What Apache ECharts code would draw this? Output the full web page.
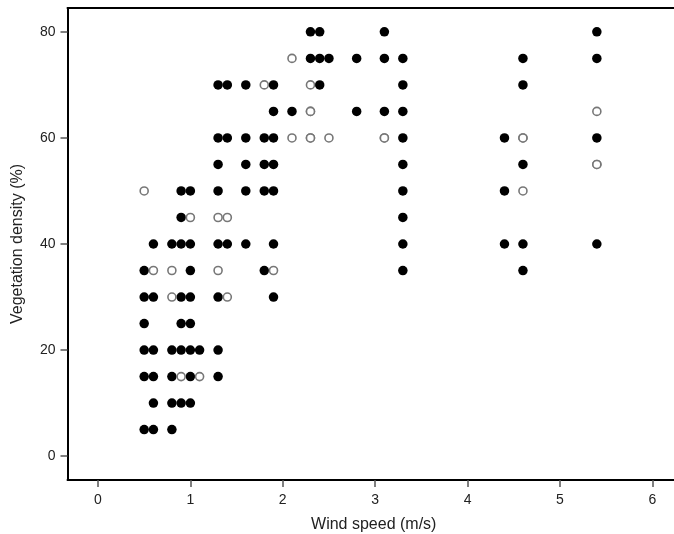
<!DOCTYPE html>
<html>
<head>
<meta charset="utf-8">
<script src="https://cdn.jsdelivr.net/npm/echarts@6/dist/echarts.min.js"></script>
<style>html,body{margin:0;padding:0;background:#fff;}#c{width:674px;height:534px;}</style>
</head>
<body>
<div id="c"></div>
<script>
// Filled points: [wind speed, vegetation density]
const filledPoints = [
  [2.3,80],[2.4,80],[3.1,80],[5.4,80],
  [2.3,75],[2.4,75],[2.5,75],[2.8,75],[3.1,75],[3.3,75],[4.6,75],[5.4,75],
  [1.3,70],[1.4,70],[1.6,70],[1.9,70],[2.4,70],[3.3,70],[4.6,70],
  [1.9,65],[2.1,65],[2.8,65],[3.1,65],[3.3,65],
  [1.3,60],[1.4,60],[1.6,60],[1.8,60],[1.9,60],[3.3,60],[4.4,60],[5.4,60],
  [1.3,55],[1.6,55],[1.8,55],[1.9,55],[3.3,55],[4.6,55],
  [0.9,50],[1.0,50],[1.3,50],[1.6,50],[1.8,50],[1.9,50],[3.3,50],[4.4,50],
  [0.9,45],[3.3,45],
  [0.6,40],[0.8,40],[0.9,40],[1.0,40],[1.3,40],[1.4,40],[1.6,40],[1.9,40],[3.3,40],[4.4,40],[4.6,40],[5.4,40],
  [0.5,35],[1.0,35],[1.8,35],[3.3,35],[4.6,35],
  [0.5,30],[0.6,30],[0.9,30],[1.0,30],[1.3,30],[1.9,30],
  [0.5,25],[0.9,25],[1.0,25],
  [0.5,20],[0.6,20],[0.8,20],[0.9,20],[1.0,20],[1.1,20],[1.3,20],
  [0.5,15],[0.6,15],[0.8,15],[1.0,15],[1.3,15],
  [0.6,10],[0.8,10],[0.9,10],[1.0,10],
  [0.5,5],[0.6,5],[0.8,5]
];
// Open points
const openPoints = [
  [2.1,75],
  [1.8,70],[2.3,70],
  [2.3,65],[2.3,65],[5.4,65],
  [2.1,60],[2.3,60],[2.3,60],[2.5,60],[3.1,60],[3.1,60],[4.6,60],[4.6,60],
  [5.4,55],[5.4,55],
  [0.5,50],[4.6,50],
  [1.0,45],[1.3,45],[1.4,45],
  [0.6,35],[0.8,35],[1.3,35],[1.9,35],
  [0.8,30],[1.4,30],
  [0.9,15],[1.1,15]
];
const xTicks = [0,1,2,3,4,5,6];
const yTicks = [0,20,40,60,80];

const chart = echarts.init(document.getElementById('c'), null, {renderer:'canvas'});
const font = 'Liberation Sans, Arial, sans-serif';
chart.setOption({
  animation:false,
  backgroundColor:'#fff',
  grid:{left:67.5, top:8, bottom:54, right:-6, containLabel:false, outerBoundsMode:'none'},
  xAxis:[{
    type:'value', min:-0.33, max:6.3, position:'bottom',
    name:'Wind speed (m/s)', nameLocation:'middle', nameGap:37,
    nameTextStyle:{fontFamily:font, fontSize:16, color:'#222'},
    axisLine:{show:true, onZero:false, lineStyle:{color:'#000', width:2}},
    axisTick:{show:true, length:7, lineStyle:{color:'#555', width:1.5},
      customValues:xTicks},
    axisLabel:{fontFamily:font, fontSize:14, color:'#222', margin:13,
      customValues:xTicks},
    splitLine:{show:false}
  },{
    type:'value', min:-0.33, max:6.3, position:'top',
    axisLine:{show:true, onZero:false, lineStyle:{color:'#000', width:2}},
    axisTick:{show:false}, axisLabel:{show:false}, splitLine:{show:false}
  }],
  yAxis:{
    type:'value', min:-4.5, max:84.5,
    name:'Vegetation density (%)', nameLocation:'middle', nameGap:42,
    nameTextStyle:{fontFamily:font, fontSize:16, color:'#222'},
    axisLine:{show:true, onZero:false, lineStyle:{color:'#000', width:2}},
    axisTick:{show:true, length:7, lineStyle:{color:'#555', width:1.5},
      customValues:yTicks},
    axisLabel:{fontFamily:font, fontSize:14, color:'#222', margin:12,
      customValues:yTicks},
    splitLine:{show:false}
  },
  series:[{
    type:'scatter', data:filledPoints, symbol:'circle', symbolSize:9.5,
    itemStyle:{color:'#000', opacity:1}
  },{
    type:'scatter', data:openPoints, symbol:'circle', symbolSize:8,
    itemStyle:{color:'#fff', borderColor:'#777', borderWidth:1.6, opacity:1}
  }]
});
</script>
</body>
</html>
